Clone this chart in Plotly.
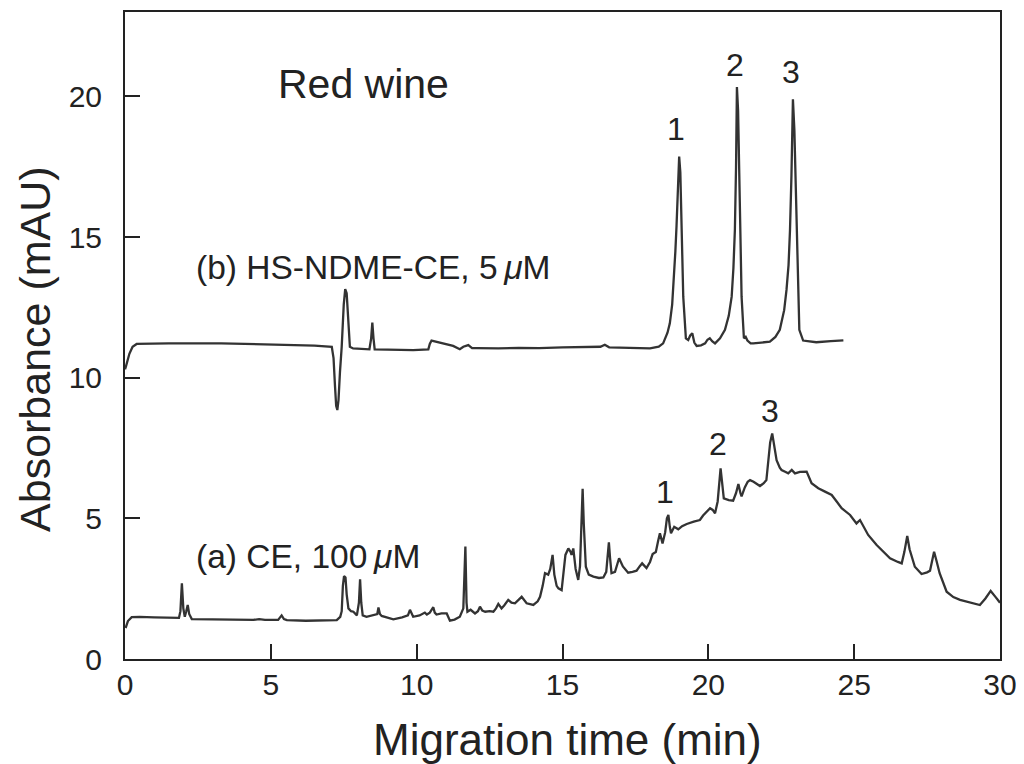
import plotly.graph_objects as go

# Trace (b) HS-NDME-CE, 5 uM
time_b = [0.0, 0.03, 0.15, 0.26, 0.4, 1.5, 3.3, 5.0, 6.5, 7.09, 7.15, 7.2, 7.24, 7.28, 7.32, 7.37,
          7.43, 7.5, 7.55, 7.6, 7.65, 7.71, 7.82, 8.0, 8.38, 8.44, 8.48, 8.52, 8.56, 9.0, 9.88,
          10.4, 10.45, 10.51, 10.65, 10.8, 11.0, 11.25, 11.48, 11.6, 11.77, 11.9, 12.05, 12.8,
          13.5, 14.2, 15.0, 15.8, 16.3, 16.45, 16.6, 17.3, 18.0, 18.3, 18.45, 18.6, 18.68, 18.76,
          18.82, 18.87, 18.91, 18.96, 19.0, 19.04, 19.08, 19.14, 19.23, 19.31, 19.38, 19.45,
          19.52, 19.6, 19.75, 19.89, 19.97, 20.05, 20.13, 20.23, 20.4, 20.57, 20.7, 20.8, 20.86,
          20.91, 20.95, 20.98, 21.02, 21.08, 21.14, 21.22, 21.28, 21.34, 21.45, 21.54, 21.8,
          22.11, 22.3, 22.45, 22.6, 22.68, 22.75, 22.8, 22.85, 22.9, 22.95, 23.03, 23.08, 23.12,
          23.25, 23.5, 23.7, 24.2, 24.63]
abs_b = [10.3, 10.39, 10.85, 11.10, 11.2, 11.22, 11.22, 11.18, 11.14, 11.1, 10.7, 9.7, 9.0, 8.85,
         9.2, 10.2, 11.1, 12.6, 13.15, 13.0, 12.0, 11.1, 11.04, 11.03, 11.01, 11.4, 11.96, 11.4,
         11.01, 11.0, 10.98, 11.01, 11.2, 11.32, 11.28, 11.25, 11.18, 11.13, 11.01, 11.1, 11.16,
         11.05, 11.05, 11.04, 11.06, 11.05, 11.08, 11.1, 11.1, 11.17, 11.08, 11.06, 11.04, 11.1,
         11.22, 11.6, 11.93, 12.6, 13.47, 14.5, 15.4, 16.8, 17.86, 17.3, 15.84, 12.88, 11.40,
         11.34, 11.5, 11.58, 11.25, 11.13, 11.15, 11.22, 11.35, 11.40, 11.3, 11.22, 11.4, 11.70,
         12.2, 12.88, 13.9, 15.25, 17.5, 20.33, 19.5, 16.43, 12.88, 11.40, 11.45, 11.32, 11.22,
         11.22, 11.25, 11.28, 11.45, 11.70, 12.4, 13.12, 14.0, 15.25, 17.2, 19.9, 18.8, 15.25,
         13.2, 11.70, 11.32, 11.28, 11.26, 11.3, 11.33]

# Trace (a) CE, 100 uM
time_a = [0.02, 0.1, 0.23, 0.5, 1.0, 1.5, 1.85, 1.9, 1.95, 2.0, 2.05, 2.1, 2.15, 2.2, 2.29, 3.0,
          3.8, 4.4, 4.6, 4.8, 5.25, 5.37, 5.45, 5.55, 6.2, 6.8, 7.26, 7.38, 7.43, 7.47, 7.51,
          7.56, 7.6, 7.66, 7.75, 7.83, 7.95, 8.02, 8.06, 8.1, 8.15, 8.28, 8.5, 8.65, 8.69, 8.74,
          8.80, 9.0, 9.2, 9.5, 9.7, 9.77, 9.83, 9.88, 10.1, 10.28, 10.35, 10.45, 10.57, 10.62,
          10.68, 10.85, 11.03, 11.1, 11.14, 11.3, 11.48, 11.6, 11.67, 11.71, 11.74, 11.85, 12.0,
          12.1, 12.17, 12.25, 12.35, 12.5, 12.63, 12.72, 12.8, 12.91, 13.0, 13.14, 13.25, 13.37,
          13.5, 13.6, 13.77, 14.0, 14.15, 14.23, 14.32, 14.40, 14.51, 14.58, 14.66, 14.72, 14.80,
          14.86, 14.97, 15.04, 15.1, 15.2, 15.28, 15.31, 15.37, 15.45, 15.54, 15.6, 15.65, 15.69,
          15.73, 15.80, 15.9, 16.06, 16.25, 16.40, 16.5, 16.55, 16.59, 16.63, 16.68, 16.8, 16.94,
          17.07, 17.25, 17.4, 17.54, 17.65, 17.73, 17.88, 18.0, 18.09, 18.2, 18.28, 18.34, 18.43,
          18.52, 18.58, 18.63, 18.68, 18.72, 18.83, 18.97, 19.1, 19.26, 19.5, 19.71, 19.82, 19.94,
          20.06, 20.15, 20.23, 20.32, 20.38, 20.42, 20.47, 20.53, 20.7, 20.85, 20.95, 21.03, 21.1,
          21.14, 21.25, 21.35, 21.43, 21.55, 21.77, 21.9, 21.99, 22.06, 22.12, 22.19, 22.26,
          22.34, 22.45, 22.51, 22.65, 22.74, 22.86, 22.97, 23.14, 23.37, 23.54, 23.77, 24.0,
          24.23, 24.4, 24.57, 24.86, 25.08, 25.2, 25.48, 25.77, 26.0, 26.23, 26.5, 26.63, 26.72,
          26.82, 26.9, 27.08, 27.31, 27.5, 27.6, 27.67, 27.74, 27.82, 27.93, 28.17, 28.4, 28.63,
          29.03, 29.31, 29.5, 29.68, 29.85, 30.0]
abs_a = [1.10, 1.35, 1.49, 1.50, 1.48, 1.47, 1.46, 1.7, 2.69, 1.8, 1.5, 1.7, 1.92, 1.6, 1.42, 1.41,
         1.40, 1.39, 1.42, 1.39, 1.39, 1.55, 1.42, 1.38, 1.36, 1.36, 1.38, 1.5, 1.7, 2.6, 2.95,
         2.9, 2.3, 1.80, 1.7, 1.68, 1.55, 2.0, 2.83, 2.0, 1.55, 1.50, 1.55, 1.6, 1.83, 1.6, 1.53,
         1.48, 1.41, 1.48, 1.55, 1.75, 1.6, 1.50, 1.55, 1.65, 1.58, 1.65, 1.84, 1.65, 1.58, 1.62,
         1.62, 1.42, 1.36, 1.40, 1.50, 1.8, 4.0, 2.0, 1.68, 1.75, 1.62, 1.7, 1.86, 1.72, 1.68, 1.7,
         1.68, 1.8, 1.96, 1.80, 1.9, 2.10, 2.0, 1.98, 2.1, 2.21, 1.98, 1.92, 2.05, 2.21, 2.6, 3.05,
         3.0, 3.2, 3.70, 3.0, 2.6, 2.51, 2.45, 3.2, 3.7, 3.93, 3.8, 3.70, 3.93, 3.2, 2.81, 3.3,
         5.3, 6.05, 4.8, 3.28, 3.0, 2.93, 2.88, 2.9, 3.1, 3.8, 4.15, 3.6, 3.05, 3.1, 3.58, 3.29,
         3.07, 3.1, 3.14, 3.3, 3.40, 3.23, 3.45, 3.73, 3.8, 4.2, 4.47, 4.11, 4.5, 5.0, 5.12, 4.7,
         4.47, 4.7, 4.61, 4.72, 4.80, 4.88, 4.94, 5.1, 5.24, 5.36, 5.3, 5.18, 5.6, 6.5, 6.78, 6.3,
         5.71, 5.65, 5.63, 5.9, 6.22, 5.9, 5.78, 6.1, 6.3, 6.36, 6.3, 6.15, 6.25, 6.36, 7.0, 7.7,
         8.02, 7.6, 7.07, 6.8, 6.72, 6.65, 6.60, 6.72, 6.60, 6.65, 6.66, 6.25, 6.07, 5.95, 5.83,
         5.6, 5.36, 5.12, 4.82, 4.94, 4.41, 4.05, 3.8, 3.58, 3.45, 3.40, 3.8, 4.37, 3.9, 3.28,
         3.02, 3.08, 3.14, 3.5, 3.81, 3.5, 3.05, 2.39, 2.2, 2.10, 2.00, 1.92, 2.15, 2.42, 2.2, 2.0]

x_ticks = [0, 5, 10, 15, 20, 25, 30]
y_ticks = [0, 5, 10, 15, 20]

FONT = "Liberation Sans, Arial, sans-serif"
INK = "#222222"
LINE = "#333333"

fig = go.Figure()
fig.add_trace(go.Scatter(x=time_b, y=abs_b, mode="lines",
                         line=dict(color=LINE, width=2.3), showlegend=False))
fig.add_trace(go.Scatter(x=time_a, y=abs_a, mode="lines",
                         line=dict(color=LINE, width=2.3), showlegend=False))

def ann(x, y, text, size, xanchor="center"):
    fig.add_annotation(x=x, y=y, xref="x", yref="y", text=text, showarrow=False,
                       xanchor=xanchor, yanchor="middle",
                       font=dict(family=FONT, size=size, color=INK))

ann(8.16, 20.45, "Red wine", 41)
ann(2.35, 13.9, "(b) HS-NDME-CE, 5\u2009<i>\u03bc</i>M", 33.5, xanchor="left")
ann(2.35, 3.65, "(a) CE, 100\u2009<i>\u03bc</i>M", 33.5, xanchor="left")
# peak labels (b)
ann(18.9, 18.85, "1", 32)
ann(20.9, 21.1, "2", 32)
ann(22.83, 20.85, "3", 32)
# peak labels (a)
ann(18.5, 5.95, "1", 32)
ann(20.33, 7.65, "2", 32)
ann(22.1, 8.8, "3", 32)

# axis titles
fig.add_annotation(x=0.506, y=-0.125, xref="paper", yref="paper", text="Migration time (min)",
                   showarrow=False, xanchor="center", yanchor="middle",
                   font=dict(family=FONT, size=44, color=INK))
fig.add_annotation(x=-0.103, y=0.479, xref="paper", yref="paper", text="Absorbance (mAU)",
                   showarrow=False, xanchor="center", yanchor="middle", textangle=-90,
                   font=dict(family=FONT, size=43, color=INK))

axis_common = dict(showgrid=False, zeroline=False, showline=True, linecolor=INK, linewidth=2,
                   mirror=True, ticks="inside", tickcolor=INK, tickwidth=2, ticklen=15,
                   automargin=False,
                   tickfont=dict(family=FONT, size=30, color=INK))

fig.update_xaxes(range=[0, 30], tickvals=x_ticks, ticktext=[str(v) for v in x_ticks],
                 ticklabelstandoff=-2, **axis_common)
fig.update_yaxes(range=[0, 23], tickvals=y_ticks, ticktext=[str(v) for v in y_ticks],
                 ticklabelstandoff=15, **axis_common)

fig.update_layout(width=1024, height=764, margin=dict(l=125, r=24, t=12, b=105),
                  plot_bgcolor="white", paper_bgcolor="white")

fig.write_html("out.html", config={"displayModeBar": False},
               post_script="document.body.style.margin='0';document.body.style.overflow='hidden';")
